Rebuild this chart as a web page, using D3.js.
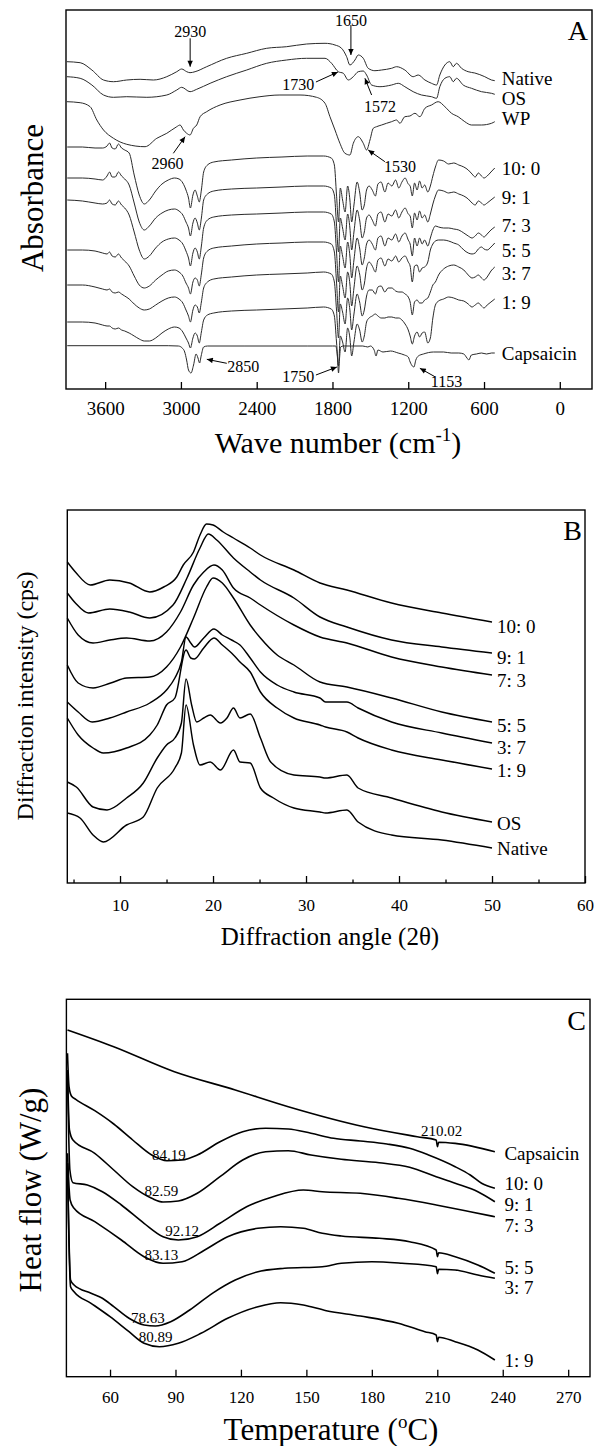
<!DOCTYPE html>
<html><head><meta charset="utf-8">
<script src="https://cdn.jsdelivr.net/npm/d3@7"></script>
<style>
body{margin:0;background:#fff}
svg{display:block}
</style>
</head><body>
<svg id="chart" width="595" height="1446"></svg>
<script>
// ---------------- DATA: Panel A (FTIR) ----------------
const ftirTicks = [3600, 3000, 2400, 1800, 1200, 600, 0];
const ftirNames = ["Native", "OS", "WP", "10: 0", "9: 1", "7: 3", "5: 5", "3: 7", "1: 9", "Capsaicin"];

const ftirWaveNative = [3903,3798,3705,3613,3534,3429,3323,3218,3112,3033,2994,2954,2928,2888,2796,2638,2479,2321,2163,2005,1859,1780,1728,1688,1662,1622,1596,1556,1517,1464,1411,1332,1292,1227,1161,1121,1068,1016,976,950,910,871,844,818,778,726,673,594,541,515];
const ftirNative = [327.3,326.3,319,309,307.3,309,309.7,309,312.3,317.3,320,317.3,316.3,317.3,322.3,330.7,335.7,340.7,342.3,345,345.7,344,340.7,332.3,324,329,334,330.7,320.7,318.3,319,320.7,322.3,319,312.3,314,309,305.7,304,314,324,327.3,322.3,325.7,320.7,317.3,316,312.3,309,308.3];

const ftirWaveOS = [3903,3798,3705,3613,3534,3429,3270,3112,3033,2994,2928,2875,2769,2638,2479,2321,2163,2005,1859,1807,1754,1714,1675,1635,1596,1556,1530,1490,1424,1332,1279,1227,1161,1095,1016,976,950,910,871,844,818,765,699,620,541,515];
const ftirOS = [312.3,310.7,304,294,291.7,292.3,291.7,294,299,301.7,297.3,299.7,305.7,312.3,319,325.7,329,330.7,330.7,325.7,317.3,315.7,309,312.3,317.3,318,314,304,302.3,304,305.7,302.3,297.3,294,292.3,290.7,302.3,310.7,312.3,307.3,310.7,304,300.7,297.3,295.7,294.7];

const ftirWaveWP = [3903,3798,3719,3666,3613,3534,3429,3284,3191,3112,3033,3007,2980,2954,2928,2901,2875,2848,2796,2690,2532,2374,2216,2057,1926,1859,1820,1780,1741,1701,1662,1635,1596,1556,1530,1503,1477,1451,1411,1372,1332,1292,1266,1227,1187,1147,1108,1068,1016,963,910,857,805,752,699,620,541,515];
const ftirWP = [287.3,286.3,282.3,269,259,250.7,244.7,242.3,250.7,255.7,262.3,264,259,255.7,254,260.7,264,272.3,277.3,284,289,292.3,294,294,291.7,285.7,272.3,259,245.7,235.7,234,245.7,252.3,245.7,239,249,260.7,262.3,264,265.7,267.3,269,265.7,272.3,273,275.7,272.3,280.7,284,287.3,282.3,275.7,272.3,267.3,264,264,265.7,267.3];

const ftirWaveMix = [3900,3780,3680,3620,3585,3565,3545,3520,3495,3470,3445,3410,3370,3330,3290,3250,3200,3150,3100,3050,3015,2985,2960,2940,2925,2905,2888,2870,2855,2838,2820,2790,2740,2600,2400,2200,2000,1870,1810,1785,1768,1752,1738,1720,1700,1680,1662,1648,1630,1605,1585,1565,1548,1530,1510,1485,1460,1440,1415,1385,1360,1330,1300,1275,1250,1225,1200,1185,1168,1150,1130,1110,1090,1070,1045,1025,1005,985,960,920,880,840,800,760,725,695,670,645,620,600,575,545,515];
const ftirMix10_0 = [242,242,241,241,243,246,241,240,245,241,239,236,214,194,185,189,198,205,209,211,210,206,199,191,181,194,199,193,187,199,217,224,227,229,231,232,233,233,231,224,194,167,201,189,177,203,189,167,184,207,197,179,184,199,203,199,193,205,207,197,206,203,209,201,207,211,205,203,193,206,199,208,201,204,197,203,213,222,229,228,225,226,224,222,219,215,212,216,213,211,213,217,221];
const ftirMix9_1 = [211,211,210,209,213,217,212,212,217,213,210,204,186,167,159,163,171,176,179,180,178,174,167,161,153,166,171,166,159,171,189,195,198,200,201,202,203,203,201,194,164,137,171,161,149,175,161,139,157,179,169,151,157,171,174,169,163,175,177,167,175,173,179,171,177,181,175,173,161,176,169,178,171,174,167,175,185,193,199,198,196,197,195,193,190,186,184,188,186,184,186,189,192];
const ftirMix7_3 = [189,188,186,185,186,189,185,184,188,184,181,174,157,139,130,133,141,147,150,151,149,145,138,131,123,136,141,137,130,143,161,169,172,174,175,176,177,177,175,167,137,107,143,133,121,147,133,111,129,151,141,124,131,145,149,145,139,151,153,143,151,149,155,147,153,156,149,145,133,151,143,151,145,149,143,151,159,163,162,161,161,160,159,156,153,151,153,156,154,152,155,159,162];
const ftirMix5_5 = [139,139,138,136,135,137,133,132,135,131,128,123,113,104,101,103,109,114,118,119,117,113,106,101,95,107,111,109,103,115,131,138,141,143,145,146,147,147,145,137,107,77,113,103,91,117,105,83,101,123,115,99,105,121,127,123,117,129,131,123,130,128,133,127,131,133,127,123,107,123,124,117,121,122,127,139,145,148,149,149,148,146,144,139,136,135,136,140,142,140,139,142,146];
const ftirMix3_7 = [104,104,102,100,99,100,97,96,97,95,93,90,85,81,79,80,84,88,91,92,90,86,79,73,67,79,84,82,76,87,101,107,110,112,114,115,116,117,115,107,79,51,85,77,65,91,79,59,75,95,87,73,79,93,99,99,95,102,103,97,101,101,98,97,97,95,92,87,74,87,89,86,86,89,91,97,104,107,114,120,123,124,122,119,114,111,112,114,111,109,112,118,122];
const ftirMix1_9 = [67,67,66,64,63,63,61,60,61,59,58,56,53,50,48,48,51,56,60,62,61,57,51,46,41,51,56,53,46,57,69,74,76,78,79,80,81,82,80,73,47,23,53,47,37,61,51,33,47,65,59,47,53,67,71,73,75,73,71,71,72,72,71,71,69,65,59,53,45,53,57,52,56,57,46,51,71,84,88,90,92,91,89,88,85,82,84,86,83,81,84,87,90];

const ftirWaveCaps = [3900,3100,3020,2990,2970,2955,2940,2920,2900,2880,2865,2852,2840,2820,2790,2500,2000,1800,1775,1762,1752,1745,1735,1715,1650,1560,1520,1500,1470,1455,1440,1400,1340,1280,1230,1200,1185,1168,1155,1140,1120,1080,1000,920,860,800,760,735,720,700,660,620,580,540,515];
const ftirCaps = [43.3,43.3,43,41,37,29,19,16,24,35,31,26,33,42,43,43,43,43,43,34,16,29,42,43,43,43,42,43,39,33,39,37,38,36,34,32,27,23,22,29,33,35,37,37,36,36,35,31,29,34,35,36,35,36,36];

const ftirNoteText = ["2930", "1650", "1730", "1572", "2960", "1530", "2850", "1750", "1153"];

// ---------------- DATA: Panel B (XRD) ----------------
const xrdTicks = [10, 20, 30, 40, 50, 60];
const xrdMinorTicks = [5, 15, 25, 35, 45, 55];
const xrdNames = ["10: 0", "9: 1", "7: 3", "5: 5", "3: 7", "1: 9", "OS", "Native"];
const xrd10_0 = [[4.33,321],[5.2,311],[6.8,298],[8.9,303],[11,300],[13.2,291],[14.7,296],[16.1,306],[16.8,318],[17.9,331],[18.6,348],[19.3,359],[20,358],[21.1,351],[22.2,345],[24,335],[25.1,328],[28.7,313],[31.5,300],[34.4,293],[39.2,280],[44.6,270],[50,261]];
const xrd9_1 = [[4.33,290],[5.2,280],[6.6,270],[8.9,274],[11,271],[13.2,265],[15.7,278],[17.2,305],[18.6,335],[19.5,349],[20.4,343],[22.2,325],[24,311],[25.1,303],[28.7,285],[31.5,266],[34.4,256],[39.2,243],[44.6,236],[50,230]];
const xrd7_3 = [[4.33,265],[5.5,248],[7.1,240],[8.9,243],[10.7,245],[13.2,242],[15,251],[16.5,271],[17.9,298],[19,311],[20.1,318],[21,313],[22.2,295],[24,285],[25.1,278],[28.7,258],[31.5,246],[34.4,240],[39.2,226],[44.6,216],[50,208]];
const xrd5_5 = [[4.33,218],[5.5,200],[7.1,195],[9,200],[10.7,205],[13.2,206],[15,216],[16.5,236],[17.9,265],[19.3,296],[20,305],[21,300],[22.2,285],[24,258],[25.1,245],[26.9,228],[28.7,218],[31.5,201],[34.4,196],[39.2,185],[44.6,171],[50,161]];
const xrd3_7 = [[4.33,181],[5.5,171],[7,161],[8.9,165],[10.7,171],[13.2,180],[15,193],[15.9,205],[16.6,221],[17.1,246],[17.6,240],[18,236],[19,245],[20.1,254],[21,248],[22,243],[22.9,238],[24,225],[25.1,211],[26.9,198],[28.7,191],[31.5,185],[32.1,181],[34.4,181],[35.6,175],[39.2,161],[44.6,150],[50,140]];
const xrd1_9 = [[4.33,165],[5.5,148],[7.1,135],[8.2,130],[10.7,135],[13.2,148],[14,158],[15,178],[15.9,185],[17.1,233],[17.6,225],[18,224],[19,235],[20.1,245],[21,238],[22.2,228],[22.9,221],[24,211],[25.1,191],[26.9,175],[28.7,165],[31.5,158],[32.1,156],[34.4,151],[35.6,145],[39.2,133],[44.6,123],[50,114]];
const xrdOS = [[4.33,101],[5.3,96],[7.1,76],[8.6,73],[10.7,85],[12.5,100],[14,125],[15,138],[15.9,145],[16.6,160],[17.1,204],[17.7,178],[18.25,161],[19,165],[19.7,168],[20.8,160],[21.5,165],[22.2,175],[22.9,165],[24,169],[25.1,145],[26.2,121],[28.7,108],[31.5,106],[32.1,105],[34.4,108],[35.6,95],[39.2,85],[44.6,71],[50,61]];
const xrdNative = [[4.33,70],[5.7,65],[7.1,48],[8.2,41],[10.7,58],[12.5,66],[14,95],[15.9,115],[16.6,130],[17.1,178],[17.9,138],[18.6,118],[19.7,121],[20.8,113],[22.2,133],[22.9,121],[24,120],[25.1,95],[26.5,85],[28.7,75],[31.5,71],[32.1,70],[34.4,73],[35.6,61],[39.2,48],[44.6,43],[50,35]];

// ---------------- DATA: Panel C (DSC) ----------------
const dscTicks = [60, 90, 120, 150, 180, 210, 240, 270];
const dscNames = ["Capsaicin", "10: 0", "9: 1", "7: 3", "5: 5", "3: 7", "1: 9"];
const dscCapsaicin = [[40.5,346.7],[61.7,330],[89.5,305],[117.4,286.7],[141.7,270],[176.4,250],[200.8,240],[209.5,236.7],[210.1,230],[210.6,234.5],[218.2,233.3],[236.4,225]];
const dsc10_0 = [[40.5,323.4],[41.2,290],[42.3,280.7],[44.3,277.4],[53,266],[61.7,252.7],[70.4,236.7],[79.1,221.7],[86.1,216],[93,216.7],[100,221.7],[110.4,235],[120.8,245],[131.3,248.4],[141.7,247.7],[152.1,243.4],[162.5,238.4],[174.7,235.7],[186.9,232.7],[197.3,228.4],[206,221.7],[218.2,210],[225.1,201.7],[230.3,193.4],[236.4,188.4]];
const dsc9_1 = [[40.5,306.7],[41.4,246.7],[43,236.7],[53,223.4],[61.7,206.7],[70.4,190],[79.1,178.4],[84.3,174.7],[91.3,175.7],[100,183.4],[110.4,200],[120.8,216.7],[131.3,225],[141.7,226],[152.1,221.7],[166,217.4],[183.4,214],[197.3,209.4],[209.5,200],[218.2,193.4],[228.6,185],[236.4,175]];
const dsc7_3 = [[40.5,303.4],[41.6,206.7],[43,194],[49.6,191.7],[56.5,185],[65.2,171.7],[75.6,153.4],[84.3,140],[91.3,136.7],[100,140],[110.4,153.4],[122.6,170],[134.7,180],[148.6,186.7],[157.3,185],[174.7,183.4],[192.1,178.4],[209.5,171.7],[225.1,165],[236.4,160]];
const dsc5_5 = [[40.5,223.4],[41.7,176.7],[43.5,168.4],[53,155],[65.2,136.7],[75.6,120],[84.3,113.4],[93,115],[103.4,126.7],[113.9,140],[127.8,148.4],[138.2,150],[148.6,148.4],[157.3,143.4],[166,140.7],[183.4,138.4],[197.3,135],[209.5,126.7],[210.1,120],[210.6,124],[218.2,120],[228.6,111.7],[236.4,103.4]];
const dsc3_7 = [[40.5,213.4],[41.9,96.7],[43.5,91.7],[51.3,83.4],[56.5,78.4],[61.7,70],[68.7,58.4],[75.6,51.7],[80.8,50.7],[87.8,55],[96.5,66.7],[106.9,83.4],[117.4,96.7],[127.8,105],[140,108.4],[157.3,110],[166,113.4],[180,115],[193.8,113.4],[209.5,110],[210.1,103],[210.6,107.5],[218.2,106.7],[228.6,101.7],[236.4,98.4]];
const dsc1_9 = [[40.5,213.4],[41.9,90],[43.5,85],[51.3,73.4],[60,60],[68.7,45],[75.6,33.4],[82.6,30],[91.3,33.4],[101.7,43.4],[113.9,58.4],[127.8,70],[138.2,74],[148.6,71.7],[159.1,66],[174.7,60.7],[192.1,53.4],[204.3,45],[209.5,41.7],[210.1,35],[210.6,39.5],[218.2,35],[228.6,26.7],[236.4,16.7]];
const dscPeakText = ["84.19", "210.02", "82.59", "92.12", "83.13", "78.63", "80.89"];

// ---------------- LAYOUT ----------------
const FONT = "'Liberation Serif','Times New Roman',Times,serif";
const svg = d3.select("#chart");
const defs = svg.append("defs");
defs.append("marker").attr("id", "arr").attr("viewBox", "0 0 10 10")
  .attr("refX", 10).attr("refY", 5).attr("markerWidth", 7).attr("markerHeight", 6)
  .attr("markerUnits", "userSpaceOnUse").attr("orient", "auto")
  .append("path").attr("d", "M0,0.5 L10,5 L0,9.5 Z").attr("fill", "#000");

function drawFrame(x0, y0, x1, y1) {
  svg.append("rect").attr("x", x0).attr("y", y0).attr("width", x1 - x0).attr("height", y1 - y0)
    .attr("fill", "none").attr("stroke", "#000").attr("stroke-width", 1.4);
}
function bottomAxis(scale, y, values, size, pad, fs, fmt) {
  const g = svg.append("g").attr("transform", `translate(0,${y})`)
    .call(d3.axisBottom(scale).tickValues(values).tickSize(-size).tickPadding(pad).tickFormat(fmt));
  g.select(".domain").remove();
  g.attr("font-family", FONT).attr("font-size", fs);
  g.selectAll(".tick line").attr("stroke", "#000").attr("stroke-width", 1.3);
  g.selectAll(".tick text").attr("fill", "#000");
  return g;
}
function drawPath(pts, xs, ys, color, width) {
  svg.append("path").datum(pts).attr("fill", "none").attr("stroke", color)
    .attr("stroke-width", width).attr("stroke-linejoin", "round")
    .attr("d", d3.line().x(d => xs(d[0])).y(d => ys(d[1])).curve(d3.curveMonotoneX));
}
function label(x, y, txt, fs, anchor) {
  return svg.append("text").attr("x", x).attr("y", y).attr("font-family", FONT)
    .attr("font-size", fs).attr("text-anchor", anchor || "start").attr("fill", "#000").text(txt);
}
function vTitle(x, y, txt, fs) {
  svg.append("text").attr("transform", `translate(${x},${y}) rotate(-90)`).attr("font-family", FONT)
    .attr("font-size", fs).attr("text-anchor", "middle").attr("fill", "#000").text(txt);
}

// ================= Panel A =================
const A = {x0: 66, y0: 10, x1: 592, y1: 389};
const xA = d3.scaleLinear().domain([3910, -255]).range([A.x0, A.x1]);
const yA = d3.scaleLinear().domain([0, 379]).range([A.y1, A.y0]);
const ftirSeries = [
  [ftirWaveNative, ftirNative], [ftirWaveOS, ftirOS], [ftirWaveWP, ftirWP],
  [ftirWaveMix, ftirMix10_0], [ftirWaveMix, ftirMix9_1], [ftirWaveMix, ftirMix7_3],
  [ftirWaveMix, ftirMix5_5], [ftirWaveMix, ftirMix3_7], [ftirWaveMix, ftirMix1_9],
  [ftirWaveCaps, ftirCaps]
];
const ftirLabelDy = [-2.4, 4, -3.4, 0, 0, -2, 7, 6, 3, 0];
ftirSeries.forEach(([w, v], i) => {
  const pts = w.map((d, k) => [d, v[k]]);
  drawPath(pts, xA, yA, "#2a2a2a", 1.0);
  const last = pts[pts.length - 1];
  label(xA(last[0]) + 7, yA(last[1]) + ftirLabelDy[i], ftirNames[i], 19).attr("dominant-baseline", "central");
});
const ftirNoteLayout = [
  {t: [2927, 357.3], f: [2927, 350.7], e: [2927, 322.3]},
  {t: [1654, 369], f: [1654, 364], e: [1654, 334]},
  {t: [2071, 305], f: [1931, 307], e: [1757, 317]},
  {t: [1424, 282.3], f: [1490, 294], e: [1543, 310.7]},
  {t: [3107, 225.7], f: [3060, 235.7], e: [2967, 252.3]},
  {t: [1266, 222.3], f: [1385, 227.3], e: [1517, 239]},
  {t: [2506, 22.3], f: [2637, 25.7], e: [2795, 29.7]},
  {t: [2071, 12.3], f: [1931, 14], e: [1765, 22]},
  {t: [897, 7.3], f: [989, 12.3], e: [1108, 20.7]}
];
ftirNoteLayout.forEach((n, i) => {
  label(xA(n.t[0]), yA(n.t[1]), ftirNoteText[i], 16, "middle").attr("dominant-baseline", "central");
  svg.append("line").attr("x1", xA(n.f[0])).attr("y1", yA(n.f[1])).attr("x2", xA(n.e[0])).attr("y2", yA(n.e[1]))
    .attr("stroke", "#000").attr("stroke-width", 1).attr("marker-end", "url(#arr)");
});
drawFrame(A.x0, A.y0, A.x1, A.y1);
bottomAxis(xA, A.y1, ftirTicks, 7, 13, 19, d3.format("d"));
label(588, 40, "A", 28, "end");
{
  const t = svg.append("text").attr("x", 338).attr("y", 453).attr("font-family", FONT)
    .attr("font-size", 30).attr("text-anchor", "middle").attr("fill", "#000");
  t.append("tspan").text("Wave number (cm");
  t.append("tspan").attr("font-size", 19).attr("dy", -12).text("-1");
  t.append("tspan").attr("dy", 12).text(")");
}
vTitle(43, 198, "Absorbance", 31);

// ================= Panel B =================
const B = {x0: 67.3, y0: 510, x1: 585, y1: 883};
const xB = d3.scaleLinear().domain([4.33, 60]).range([B.x0, B.x1]);
const yB = d3.scaleLinear().domain([0, 373]).range([B.y1, B.y0]);
const xrdSeries = [xrd10_0, xrd9_1, xrd7_3, xrd5_5, xrd3_7, xrd1_9, xrdOS, xrdNative];
const xrdLabelDy = [4.7, 4.3, 5.7, 3, 4.3, 1.7, 1.3, 0.3];
xrdSeries.forEach((pts, i) => {
  drawPath(pts, xB, yB, "#000", 1.45);
  const last = pts[pts.length - 1];
  label(xB(last[0]) + 5, yB(last[1]) + xrdLabelDy[i], xrdNames[i], 19).attr("dominant-baseline", "central");
});
drawFrame(B.x0, B.y0, B.x1, B.y1);
bottomAxis(xB, B.y1, xrdMinorTicks, 3.5, 14, 17, () => "");
bottomAxis(xB, B.y1, xrdTicks, 7, 16, 17, d3.format("d"));
label(582, 540, "B", 28, "end");
label(330, 945, "Diffraction angle (2\u03b8)", 25, "middle");
vTitle(33, 696, "Diffraction intensity (cps)", 24);

// ================= Panel C =================
const C = {x0: 66.4, y0: 999.3, x1: 590, y1: 1376.7};
const xC = d3.scaleLinear().domain([40, 280]).range([C.x0, C.x1]);
const yC = d3.scaleLinear().domain([0, 377.4]).range([C.y1, C.y0]);
const dscSeries = [dscCapsaicin, dsc10_0, dsc9_1, dsc7_3, dsc5_5, dsc3_7, dsc1_9];
const dscLabelDy = [1.6, -5, 3, 8.5, -6, 9, 0];
dscSeries.forEach((pts, i) => {
  drawPath(pts, xC, yC, "#000", 1.6);
  const last = pts[pts.length - 1];
  label(xC(last[0]) + 9.5, yC(last[1]) + dscLabelDy[i], dscNames[i], 19).attr("dominant-baseline", "central");
});
const dscPeakLayout = [[87, 222], [212, 246], [83.5, 186], [93, 145.4], [83.5, 122], [77.4, 58.7], [80.9, 39.4]];
dscPeakLayout.forEach((p, i) => {
  label(xC(p[0]), yC(p[1]), dscPeakText[i], 15, "middle").attr("dominant-baseline", "central");
});
drawFrame(C.x0, C.y0, C.x1, C.y1);
bottomAxis(xC, C.y1, dscTicks, 7, 14, 17, d3.format("d"));
label(586, 1030, "C", 28, "end");
{
  const t = svg.append("text").attr("x", 331).attr("y", 1440).attr("font-family", FONT)
    .attr("font-size", 31).attr("text-anchor", "middle").attr("fill", "#000");
  t.append("tspan").text("Temperature (");
  t.append("tspan").attr("font-size", 19).attr("dy", -12).text("o");
  t.append("tspan").attr("dy", 12).text("C)");
}
vTitle(41, 1190, "Heat flow (W/g)", 31);
</script>
</body></html>
